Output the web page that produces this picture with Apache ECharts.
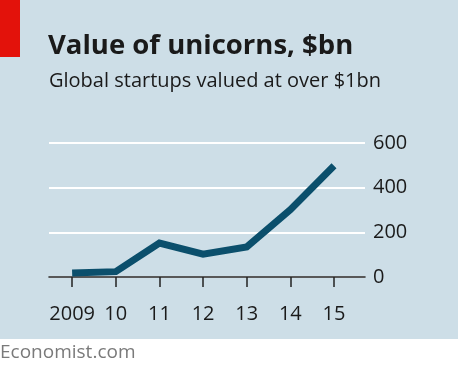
<!DOCTYPE html>
<html>
<head>
    <meta charset="utf-8">
    <title>Value of unicorns</title>
    <script src="https://cdn.jsdelivr.net/npm/echarts@6/dist/echarts.min.js"></script>
    <style>
        body { margin: 0; }
    </style>
</head>
<body>
    <div id="chart" style="width: 458px;height:376px;"></div>
    <script type="text/javascript">
        // data
        var years = [2009, 2010, 2011, 2012, 2013, 2014, 2015];
        var yearLabels = ['2009', '10', '11', '12', '13', '14', '15'];
        var values = [18, 24, 152, 102, 135, 301, 498];

        var font = '"Open Sans", "DejaVu Sans", sans-serif';
        var myChart = echarts.init(document.getElementById('chart'));

        var points = years.map(function (y, i) { return [y, values[i]]; });

        var option = {
            backgroundColor: '#ffffff',
            animation: false,
            graphic: [
                { type: 'rect', z: -10, shape: { x: 0, y: 0, width: 458, height: 339 }, style: { fill: '#cddee7' } },
                { type: 'rect', shape: { x: 0, y: 0, width: 20, height: 57 }, style: { fill: '#e3120b' } },
                { type: 'text', left: 48, top: 32, style: { text: 'Value of unicorns, $bn', font: 'bold 27.5px ' + font, fill: '#1a1a1a' } },
                { type: 'text', left: 49, top: 71, style: { text: 'Global startups valued at over $1bn', font: '20px ' + font, fill: '#1a1a1a' } },
                { type: 'text', left: 0, top: 343, style: { text: 'Economist.com', font: '19px ' + font, fill: '#7a7a7a' } }
            ],
            grid: { left: 49, right: 93, top: 143, bottom: 99 },
            xAxis: {
                type: 'value',
                min: 2008.47,
                max: 2015.71,
                splitLine: { show: false },
                axisLine: { show: true, onZero: false, lineStyle: { color: '#222', width: 1.5 } },
                axisTick: { show: true, customValues: years, length: 10, lineStyle: { color: '#222', width: 1.5 } },
                axisLabel: {
                    customValues: years,
                    margin: 27,
                    fontSize: 20,
                    fontFamily: font,
                    color: '#1a1a1a',
                    formatter: function (v) { return yearLabels[years.indexOf(Math.round(v))]; }
                }
            },
            yAxis: {
                type: 'value',
                position: 'right',
                min: 0,
                max: 600,
                interval: 200,
                axisLine: { show: false },
                axisTick: { show: false },
                axisLabel: { margin: 8, fontSize: 20, fontFamily: font, color: '#1a1a1a' },
                splitLine: { lineStyle: { color: '#ffffff', width: 2 } }
            },
            series: [{
                type: 'line',
                data: points,
                symbol: 'none',
                lineStyle: { color: '#0b4f6c', width: 7, cap: 'butt', join: 'miter' },
                z: 5
            }]
        };
        myChart.setOption(option);
    </script>
</body>
</html>
